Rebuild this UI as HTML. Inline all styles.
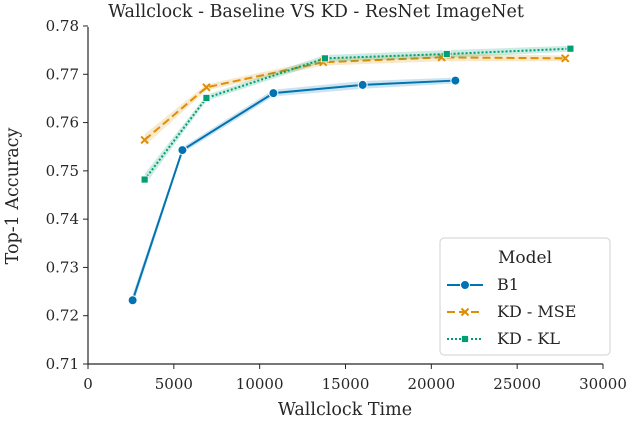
<!DOCTYPE html>
<html><head><meta charset="utf-8"><style>
body{margin:0;background:#fff}
svg{font-family:"DejaVu Serif","Liberation Serif",serif;display:block}
</style></head><body>
<svg id="c" width="632" height="422"></svg>
<script>
const xTicks=[0,5000,10000,15000,20000,25000,30000];
const yTicks=[0.71,0.72,0.73,0.74,0.75,0.76,0.77,0.78];
const seriesNames=["B1","KD - MSE","KD - KL"];
const b1X=[2600,5500,10800,16000,21400];
const b1Y=[0.7232,0.7543,0.7661,0.7678,0.7687];
const mseX=[3300,6900,13700,20600,27800];
const mseY=[0.7564,0.7673,0.7725,0.7735,0.7733];
const klX=[3300,6900,13800,20900,28100];
const klY=[0.7482,0.7651,0.7733,0.7742,0.7753];
const bandW=[0.0012,0.0006,0.0007,0.0008,0.0006];
const svg=document.getElementById('c');const NS='http://www.w3.org/2000/svg';
function X(v){return 88+v*(603-88)/30000}
function Y(v){return 364-(v-0.71)*(364-26)/0.07}
function el(t,a,p){const e=document.createElementNS(NS,t);for(const k in a)e.setAttribute(k,a[k]);(p||svg).appendChild(e);return e}
function tx(x,y,s,a,size,name){const e=el('text',{x:x,y:y,'text-anchor':a,'font-size':size,fill:'#262626'});e.textContent=s;return e}
tx(316,17,'Wallclock - Baseline VS KD - ResNet ImageNet','middle',17.5,'chart-title');
const ax=el('path',{d:`M88,27V364H603`,stroke:'#262626','stroke-width':1.2,fill:'none'});

xTicks.forEach(v=>{el('line',{x1:X(v),x2:X(v),y1:364,y2:369,stroke:'#262626'});tx(X(v),389,String(v),'middle',15,'x-tick-label')});
yTicks.forEach(v=>{el('line',{x1:83,x2:88,y1:Y(v),y2:Y(v),stroke:'#262626'});tx(79,Y(v)+5,v.toFixed(2),'end',15,'y-tick-label')});
tx(345,415,'Wallclock Time','middle',17.5,'x-axis-title');
const yt=tx(0,0,'Top-1 Accuracy','middle',17.5,'y-axis-title');yt.setAttribute('transform','translate(18,196) rotate(-90)');
const cols=['#0173b2','#de8f05','#029e73'];const dash=['', '8,4','2,2'];
const data=[[b1X,b1Y],[mseX,mseY],[klX,klY]];
data.forEach((d,i)=>{
 const [xs,ys]=d;
 let up=xs.map((x,j)=>X(x)+','+Y(ys[j]+bandW[j])).join(' ');
 let lo=xs.map((x,j)=>X(x)+','+Y(ys[j]-bandW[j])).reverse().join(' ');
 const b=el('polygon',{points:up+' '+lo,fill:cols[i],opacity:0.2});
 
 const l=el('polyline',{points:xs.map((x,j)=>X(x)+','+Y(ys[j])).join(' '),fill:'none',stroke:cols[i],'stroke-width':2,'stroke-dasharray':dash[i]});
 
 xs.forEach((x,j)=>{marker(X(x),Y(ys[j]),i)});
});
function marker(cx,cy,i){let m;
 if(i==0)m=el('circle',{cx:cx,cy:cy,r:4.5,fill:cols[0],stroke:'#fff','stroke-width':1});
 else if(i==1)m=el('path',{d:`M${cx-3.5},${cy-3.5}L${cx+3.5},${cy+3.5}M${cx+3.5},${cy-3.5}L${cx-3.5},${cy+3.5}`,stroke:cols[1],'stroke-width':2});
 else m=el('rect',{x:cx-3.5,y:cy-3.5,width:7,height:7,fill:cols[2],stroke:'#fff','stroke-width':0.8});
 }
const lg=el('rect',{x:440,y:238,width:170,height:117,rx:4,fill:'#fff',stroke:'#ccc',opacity:0.9});

tx(525,263,'Model','middle',17,'legend-title');
seriesNames.forEach((n,i)=>{const y=285+i*27;
 el('line',{x1:447,x2:483,y1:y,y2:y,stroke:cols[i],'stroke-width':2,'stroke-dasharray':dash[i]});
 marker(465,y,i);tx(497,y+5,n,'start',16,'legend-entry');});
</script>
</body></html>
